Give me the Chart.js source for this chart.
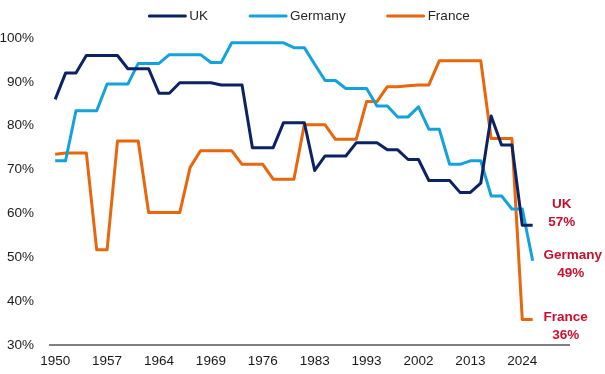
<!DOCTYPE html>
<html>
<head>
<meta charset="utf-8">
<script src="https://cdn.jsdelivr.net/npm/chart.js@4"></script>
<style>
  html, body { margin: 0; padding: 0; background: #fff; }
  #wrap { width: 605px; height: 374px; }
</style>
</head>
<body>
<div id="wrap"><canvas id="voteChart" width="605" height="374"></canvas></div>
<script>
// one slot per election step, labels only every 5th slot
const tickYears = ['1950', '1957', '1964', '1969', '1976', '1983', '1993', '2002', '2013', '2024'];
const slotCount = 50;

const ukShare = [86, 92, 92, 96, 96, 96, 96, 93, 93, 93, 87.4, 87.4, 89.8, 89.8, 89.8, 89.8, 89.3, 89.3, 89.3, 75,
    75, 75, 80.7, 80.7, 80.7, 69.8, 73.1, 73.1, 73.1, 76.1, 76.1, 76.1, 74.5, 74.5, 72.3, 72.3, 67.5, 67.5, 67.5, 64.8,
    64.8, 66.9, 82.2, 75.6, 75.6, 57.3, 57.3];
const germanyShare = [72, 72, 83.4, 83.4, 83.4, 89.5, 89.5, 89.5, 94.2, 94.2, 94.2, 96.2, 96.2, 96.2, 96.2, 94.4, 94.4, 98.9, 98.9, 98.9,
    98.9, 98.9, 98.9, 97.8, 97.8, 94, 90.3, 90.3, 88.5, 88.5, 88.5, 84.5, 84.5, 82, 82, 84.3, 79.2, 79.2, 71.2, 71.2,
    72, 72, 64, 64, 61, 61, 49.2];
const franceShare = [73.5, 73.8, 73.8, 73.8, 51.7, 51.7, 76.5, 76.5, 76.5, 60.2, 60.2, 60.2, 60.2, 70.5, 74.3, 74.3, 74.3, 74.3, 71.2, 71.2,
    71.2, 67.8, 67.8, 67.8, 80.2, 80.2, 80.2, 76.9, 76.9, 76.9, 85.5, 85.5, 88.9, 88.9, 89.1, 89.3, 89.3, 94.8, 94.8, 94.8,
    94.8, 94.8, 77.1, 77.1, 77.1, 35.8, 35.8];

const seriesNames = ['UK', 'Germany', 'France'];
const yTicks = [30, 40, 50, 60, 70, 80, 90, 100];

const slotLabels = [];
for (let i = 0; i < slotCount; i++) {
    slotLabels.push(i % 5 === 0 && tickYears[i / 5] ? tickYears[i / 5] : '');
}

const fontFamily = "Arial, 'Liberation Sans', sans-serif";

// legend drawn by hand so the spacing can match
const topLegend = {
    id: 'topLegend',
    afterDraw(chart) {
        const ctx = chart.ctx;
        const area = chart.chartArea;
        const lineLen = 36, textGap = 4, itemGap = 42;
        ctx.save();
        ctx.font = '13.5px ' + fontFamily;
        const widths = chart.data.datasets.map(ds => lineLen + textGap + ctx.measureText(ds.label).width);
        const total = widths.reduce((a, b) => a + b, 0) + itemGap * (widths.length - 1);
        let x = (area.left + area.right) / 2 - total / 2;
        const y = 16;
        chart.data.datasets.forEach((ds, i) => {
            ctx.strokeStyle = ds.borderColor;
            ctx.lineWidth = 3;
            ctx.lineCap = 'round';
            ctx.beginPath();
            ctx.moveTo(x, y);
            ctx.lineTo(x + lineLen, y);
            ctx.stroke();
            ctx.fillStyle = '#262626';
            ctx.textAlign = 'left';
            ctx.textBaseline = 'middle';
            ctx.fillText(ds.label, x + lineLen + textGap, y);
            x += widths[i] + itemGap;
        });
        ctx.restore();
    }
};

// name + last value written next to each line end
const endLabels = {
    id: 'endLabels',
    afterDatasetsDraw(chart, args, opts) {
        const ctx = chart.ctx;
        ctx.save();
        ctx.font = 'bold 13.5px ' + fontFamily;
        ctx.fillStyle = '#C8102E';
        ctx.textAlign = 'center';
        ctx.textBaseline = 'middle';
        chart.data.datasets.forEach((ds, i) => {
            const meta = chart.getDatasetMeta(i);
            const last = meta.data[meta.data.length - 1];
            const val = ds.data[ds.data.length - 1];
            const off = opts.offsets[i];
            const cx = last.x + off[0];
            const cy = last.y + off[1];
            ctx.fillText(ds.label, cx, cy - 9);
            ctx.fillText(Math.round(val) + '%', cx + off[2], cy + 9);
        });
        ctx.restore();
    }
};

const ctx = document.getElementById('voteChart').getContext('2d');
const voteChart = new Chart(ctx, {
    type: 'line',
    data: {
        labels: slotLabels,
        datasets: [
            { label: seriesNames[0], data: ukShare, borderColor: '#0B2265' },
            { label: seriesNames[1], data: germanyShare, borderColor: '#13A3DC' },
            { label: seriesNames[2], data: franceShare, borderColor: '#E8670C' }
        ]
    },
    plugins: [topLegend, endLabels],
    options: {
        responsive: false,
        animation: false,
        layout: { padding: { top: 38, right: 36, bottom: 0, left: 0 } },
        elements: {
            line: { borderWidth: 3, tension: 0, borderJoinStyle: 'round', borderCapStyle: 'butt' },
            point: { radius: 0, hoverRadius: 0 }
        },
        scales: {
            x: {
                type: 'category',
                offset: true,
                grid: { display: false, drawTicks: false },
                border: { display: true, color: '#7f7f7f', width: 2 },
                ticks: {
                    autoSkip: false,
                    maxRotation: 0,
                    padding: 8,
                    color: '#1a1a1a',
                    font: { size: 13.5, family: fontFamily },
                    callback: function(value, index) {
                        return slotLabels[index];
                    }
                },
                afterFit: function(scale) { scale.height = 29; }
            },
            y: {
                min: yTicks[0],
                max: yTicks[yTicks.length - 1],
                grid: { display: false, drawTicks: false },
                border: { display: false },
                afterBuildTicks: function(scale) {
                    scale.ticks = yTicks.map(v => ({ value: v }));
                },
                ticks: {
                    padding: 16,
                    color: '#1a1a1a',
                    font: { size: 13.5, family: fontFamily },
                    callback: function(value) { return value + '%'; }
                },
                afterFit: function(scale) { scale.width = 50; }
            }
        },
        plugins: {
            legend: { display: false },
            tooltip: { enabled: false },
            endLabels: {
                // [dx, dy, dx of the value line]
                offsets: [[29, -12, 0], [40, 3.5, -2], [33, 6.5, 0]]
            }
        }
    }
});
</script>
</body>
</html>
